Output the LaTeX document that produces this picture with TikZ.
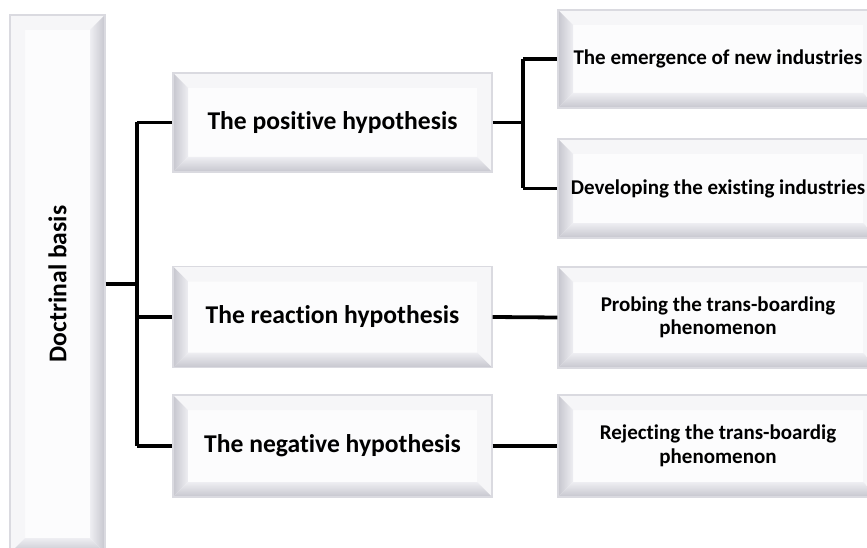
\documentclass[tikz,border=0pt]{standalone}
\usepackage{fontspec}
\setmainfont{Carlito}[Ligatures=NoCommon]
\definecolor{bevdark}{HTML}{C6C6CE}
\definecolor{bevmid}{HTML}{EEEEF2}
\definecolor{bevlite}{HTML}{F6F6F8}
\definecolor{face}{HTML}{FCFCFD}
\definecolor{rim}{HTML}{DADAE0}
\tikzset{
  box/.style={draw=rim, line width=1.2pt, fill=face, align=center, inner sep=0pt,
    text=black},
  bevLB/.style={path picture={
    \coordinate (SW) at (path picture bounding box.south west);
    \coordinate (NE) at (path picture bounding box.north east);
    \coordinate (NW) at (SW|-NE);
    \coordinate (SE) at (NE|-SW);
    \coordinate (iSW) at ([shift={(15pt,15pt)}]SW);
    \coordinate (iNE) at ([shift={(-15pt,-15pt)}]NE);
    \coordinate (iNW) at ([shift={(15pt,-15pt)}]NW);
    \coordinate (iSE) at ([shift={(-15pt,15pt)}]SE);
    \fill[bevlite] (NW) -- (NE) -- (iNE) -- (iNW) -- cycle;
    \fill[bevlite] (NE) -- (SE) -- (iSE) -- (iNE) -- cycle;
    \shade[left color=bevdark, right color=bevmid] (SW) -- (NW) -- (iNW) -- (iSW) -- cycle;
    \shade[bottom color=bevdark, top color=bevmid] (SW) -- (SE) -- (iSE) -- (iSW) -- cycle;
  }},
  bevRB/.style={path picture={
    \coordinate (SW) at (path picture bounding box.south west);
    \coordinate (NE) at (path picture bounding box.north east);
    \coordinate (NW) at (SW|-NE);
    \coordinate (SE) at (NE|-SW);
    \coordinate (iSW) at ([shift={(15pt,15pt)}]SW);
    \coordinate (iNE) at ([shift={(-15pt,-15pt)}]NE);
    \coordinate (iNW) at ([shift={(15pt,-15pt)}]NW);
    \coordinate (iSE) at ([shift={(-15pt,15pt)}]SE);
    \fill[bevlite] (NW) -- (NE) -- (iNE) -- (iNW) -- cycle;
    \fill[bevlite] (SW) -- (NW) -- (iNW) -- (iSW) -- cycle;
    \shade[left color=bevmid, right color=bevdark] (NE) -- (SE) -- (iSE) -- (iNE) -- cycle;
    \shade[bottom color=bevdark, top color=bevmid] (SW) -- (SE) -- (iSE) -- (iSW) -- cycle;
  }},
  midtxt/.style={font=\fontsize{25.6}{30}\selectfont\bfseries},
  righttxt/.style={font=\fontsize{21}{23.5}\selectfont\bfseries},
  conn/.style={line width=3.8pt, black},
}
\begin{document}
\begin{tikzpicture}[x=1pt, y=-1pt]
\clip (0,0) rectangle (867,548);
\useasboundingbox (0,0) rectangle (867,548);
\fill[white] (0,0) rectangle (867,548);

\node[box, bevRB, minimum width=95pt, minimum height=538pt,
  font=\fontsize{25.6}{30}\selectfont\bfseries] (doc) at (57.5,284) {\rotatebox{90}{Doctrinal basis}};

\node[box, bevLB, midtxt, minimum width=319pt, minimum height=99pt] (pos) at (332.5,122.5) {The positive hypothesis};
\node[box, bevLB, midtxt, minimum width=319pt, minimum height=101pt] (rea) at (332.5,317) {The reaction hypothesis};
\node[box, bevLB, midtxt, minimum width=319pt, minimum height=102pt] (neg) at (332.5,446) {The negative hypothesis};

\node[box, bevLB, righttxt, minimum width=320pt, minimum height=98pt] (e1) at (718,59) {The emergence of new industries};
\node[box, bevLB, righttxt, minimum width=320pt, minimum height=99pt] (e2) at (718,188.5) {Developing the existing industries};
\node[box, bevLB, righttxt, minimum width=320pt, minimum height=101pt] (p1) at (718,317.5) {Probing the trans-boarding\\phenomenon};
\node[box, bevLB, righttxt, minimum width=320pt, minimum height=102pt] (r1) at (718,446) {Rejecting the trans-boardig\\phenomenon};

\coordinate (j1) at (137,284);
\coordinate (j2) at (523,122.5);
\draw[conn] (doc.east) -- (j1);
\draw[conn] (j1|-pos.west) -- (j1|-neg.west);
\draw[conn] (j1|-pos.west) -- (pos.west);
\draw[conn] (j1|-rea.west) -- (rea.west);
\draw[conn] (j1|-neg.west) -- (neg.west);

\draw[conn] (pos.east) -- (j2);
\draw[conn] (j2|-e1.west) -- (j2|-e2.west);
\draw[conn] (j2|-e1.west) -- (e1.west);
\draw[conn] (j2|-e2.west) -- (e2.west);
\draw[conn] (rea.east) -- (p1.west);
\draw[conn] (neg.east) -- (r1.west);
\end{tikzpicture}
\end{document}
